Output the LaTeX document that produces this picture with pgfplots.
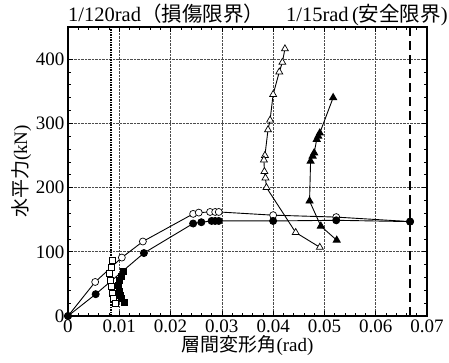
\documentclass[border=0pt]{standalone}
\usepackage{pgfplots}
\pgfplotsset{compat=1.18}
\usepackage{fontspec}
\setmainfont{Liberation Serif}
\newfontfamily\cjk{Noto Sans CJK JP}
\begin{document}
\begin{tikzpicture}
\begin{axis}[
  scale only axis, width=359pt, height=289pt,
  xmin=0, xmax=0.07, ymin=0, ymax=450,
  xtick={0,0.01,0.02,0.03,0.04,0.05,0.06,0.07},
  xticklabels={0,0.01,0.02,0.03,0.04,0.05,0.06,0.07},
  scaled x ticks=false,
  ytick={0,100,200,300,400},
  yticklabels={0,100,200,300,400},
  minor x tick num=4, minor y tick num=4,
  tick align=inside, xtick pos=both, ytick pos=both,
  major tick length=5pt, minor tick length=3pt,
  grid=major, major grid style={densely dotted, black!70, line width=0.6pt},
  axis line style={line width=1.2pt},
  tick style={black, line width=0.6pt},
  ticklabel style={font=\fontsize{19}{22}\selectfont},
  label style={font=\fontsize{19}{22}\selectfont},
  xlabel={{\cjk 層間変形角}(rad)},
  ylabel={{\cjk 水平力}(kN)},
  xlabel style={yshift=4pt},
  ylabel style={yshift=-2pt},
  clip=false,
]
% reference lines
\addplot[black, line width=2pt, dash pattern=on 1.5pt off 1pt] coordinates {(0.008333,0) (0.008333,450)};
\addplot[black, line width=2pt, dash pattern=on 9pt off 5pt] coordinates {(0.06667,0) (0.06667,450)};
% open circles
\addplot[black, line width=0.9pt, mark=*, mark options={fill=white, line width=0.7pt}, mark size=3.5pt] coordinates {
 (0,0) (0.0053,53) (0.0105,91) (0.0146,116) (0.0244,159) (0.0255,161) (0.0277,162) (0.0287,162) (0.0294,162) (0.0400,157) (0.0523,154) (0.0667,147)};
% filled circles
\addplot[black, line width=0.9pt, mark=*, mark options={fill=black}, mark size=3.5pt] coordinates {
 (0,0) (0.0054,34) (0.0148,98) (0.0244,144) (0.0260,146) (0.0280,148) (0.0287,148) (0.0294,148) (0.0400,148) (0.0523,149) (0.0667,147)};
% open squares
\addplot[black, line width=0.7pt, mark=square*, mark options={fill=white}, mark size=3pt] coordinates {
 (0.0086,86) (0.0084,76) (0.0080,66) (0.0082,56) (0.0085,46) (0.0087,36) (0.0089,27) (0.0092,20)};
% filled squares
\addplot[black, line width=0.7pt, mark=square*, mark options={fill=black}, mark size=3pt] coordinates {
 (0.0108,70) (0.0105,62) (0.0100,55) (0.0098,47) (0.0100,39) (0.0102,32) (0.0105,27) (0.0110,21)};
% open triangles
\addplot[black, line width=0.9pt, mark=triangle*, mark options={fill=white, line width=0.7pt}, mark size=4pt] coordinates {
 (0.0423,416) (0.0418,395) (0.0412,380) (0.0400,345) (0.0394,305) (0.0390,290) (0.0384,250) (0.0382,243) (0.0383,225) (0.0385,215) (0.0387,200) (0.0444,130) (0.0491,107)};
% filled triangles
\addplot[black, line width=0.9pt, mark=triangle*, mark options={fill=black}, mark size=4pt] coordinates {
 (0.0517,340) (0.0491,285) (0.0488,280) (0.0485,275) (0.0480,254) (0.0477,249) (0.0473,241) (0.0471,179) (0.0493,140) (0.0524,118)};
\node[anchor=base west, font=\fontsize{20.5}{23}\selectfont, inner sep=0pt] at (rel axis cs:0,1) [yshift=5pt] {1/120rad{\cjk （損傷限界）}};
\node[anchor=base east, font=\fontsize{20.5}{23}\selectfont, inner sep=0pt] at (rel axis cs:1,1) [xshift=21pt, yshift=5pt] {1/15rad\,({\cjk 安全限界})};
\end{axis}
\pgfresetboundingbox
\path[use as bounding box] (-68pt,-47pt) rectangle (381pt,316pt);
\end{tikzpicture}
\end{document}
